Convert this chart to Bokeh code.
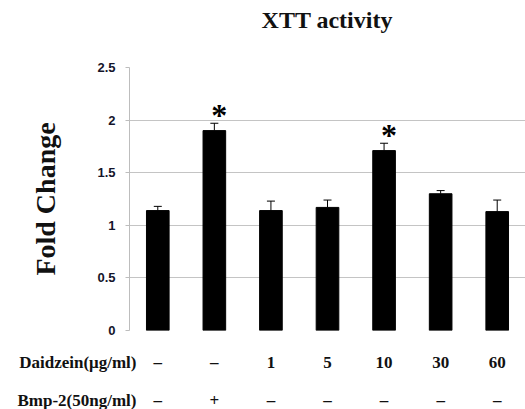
from bokeh.plotting import figure
from bokeh.layouts import column
from bokeh.models import (ColumnDataSource, Range1d, Whisker, FixedTicker, TeeHead, Div)
from bokeh.core.properties import value
from bokeh.embed import file_html
from bokeh.resources import INLINE

# ---- data ----
daidzein = ["–", "–", "1", "5", "10", "30", "60"]
bmp2 = ["–", "+", "–", "–", "–", "–", "–"]
fold_change = [1.14, 1.90, 1.14, 1.17, 1.71, 1.30, 1.13]
error = [0.04, 0.07, 0.09, 0.07, 0.07, 0.03, 0.11]
significant = ["", "*", "", "", "*", "", ""]
y_ticks = [0, 0.5, 1, 1.5, 2, 2.5]
title_text = "XTT activity"
y_label = "Fold Change"
row_labels = ["Daidzein(μg/ml)", "Bmp-2(50ng/ml)"]
row_values = [daidzein, bmp2]

pos = list(range(len(daidzein)))
upper = [f + e for f, e in zip(fold_change, error)]
src = ColumnDataSource(dict(x=pos, fold=fold_change, upper=upper, star=significant))

SERIF = "Liberation Serif"
SANS = "Liberation Sans"
INK = "#111111"

xr = Range1d(-0.5, len(pos) - 0.5)

# ---------------- title ----------------
head = Div(text=(f'<div style="margin-left:129px;width:396px;text-align:center;'
                 f'font-family:\'{SERIF}\';font-weight:bold;font-size:24px;'
                 f'line-height:40px;color:{INK};">{title_text}</div>'),
           width=525, height=40, margin=0)

# ---------------- main chart ----------------
p = figure(width=525, height=300, x_range=xr, y_range=Range1d(0, 2.5),
           output_backend="svg", toolbar_location=None,
           min_border_left=129, min_border_right=0, min_border_top=27,
           min_border_bottom=10)
p.outline_line_color = None
p.title.text = ""

p.vbar(x="x", top="fold", width=0.4, source=src, fill_color="black",
       line_color="black")
p.add_layout(Whisker(base="x", lower="fold", upper="upper", source=src,
                     line_color="black", line_width=1,
                     upper_head=TeeHead(size=8, line_color="black", line_width=1),
                     lower_head=None))
p.text(x="x", y="upper", text="star", source=src, text_font=value(SERIF),
       text_font_size="32px", text_font_style="bold", text_align="center",
       text_baseline="middle", x_offset=5, y_offset=-8, text_color="black")

p.yaxis.ticker = FixedTicker(ticks=y_ticks)
p.yaxis.axis_line_color = "#bdbdbd"
p.yaxis.major_tick_line_color = "#bdbdbd"
p.yaxis.major_tick_out = 4
p.yaxis.major_tick_in = 0
p.yaxis.minor_tick_line_color = None
p.yaxis.major_label_standoff = 10
p.yaxis.major_label_text_font = SANS
p.yaxis.major_label_text_font_size = "13px"
p.yaxis.major_label_text_font_style = "bold"
p.yaxis.major_label_text_color = "#14142a"
p.yaxis.axis_label = y_label
p.yaxis.axis_label_text_font = SERIF
p.yaxis.axis_label_text_font_size = "28px"
p.yaxis.axis_label_text_font_style = "bold"
p.yaxis.axis_label_text_color = INK
p.yaxis.axis_label_standoff = 33

p.ygrid.grid_line_color = "#c4c4c4"
p.xgrid.grid_line_color = None
p.xaxis.visible = False

# ---------------- condition table ----------------
n_rows = len(row_labels)
row_y = [n_rows - 1 - r for r in range(n_rows)]
tx, ty, tt = [], [], []
for r, vals in enumerate(row_values):
    tx += pos
    ty += [row_y[r]] * len(vals)
    tt += vals
tsrc = ColumnDataSource(dict(x=tx, y=ty, t=tt))

t = figure(width=525, height=69, x_range=xr, y_range=Range1d(-0.24, 1.21),
           output_backend="svg", toolbar_location=None,
           min_border_left=129, min_border_right=0, min_border_top=14,
           min_border_bottom=0)
t.outline_line_color = None
t.grid.grid_line_color = None
t.xaxis.visible = False
t.text(x="x", y="y", text="t", source=tsrc, text_font=value(SERIF),
       text_font_size="17px", text_font_style="bold", text_align="center",
       text_baseline="middle", text_color=INK)
t.yaxis.ticker = FixedTicker(ticks=row_y)
t.yaxis.major_label_overrides = {row_y[r]: row_labels[r] for r in range(n_rows)}
t.yaxis.axis_line_color = None
t.yaxis.major_tick_line_color = None
t.yaxis.minor_tick_line_color = None
t.yaxis.major_tick_out = 0
t.yaxis.major_tick_in = 0
t.yaxis.major_label_standoff = -7
t.yaxis.major_label_text_font = SERIF
t.yaxis.major_label_text_font_size = "17px"
t.yaxis.major_label_text_font_style = "bold"
t.yaxis.major_label_text_color = INK

layout = column(head, p, t, spacing=0)
open("out.html", "w").write(file_html(layout, INLINE))
